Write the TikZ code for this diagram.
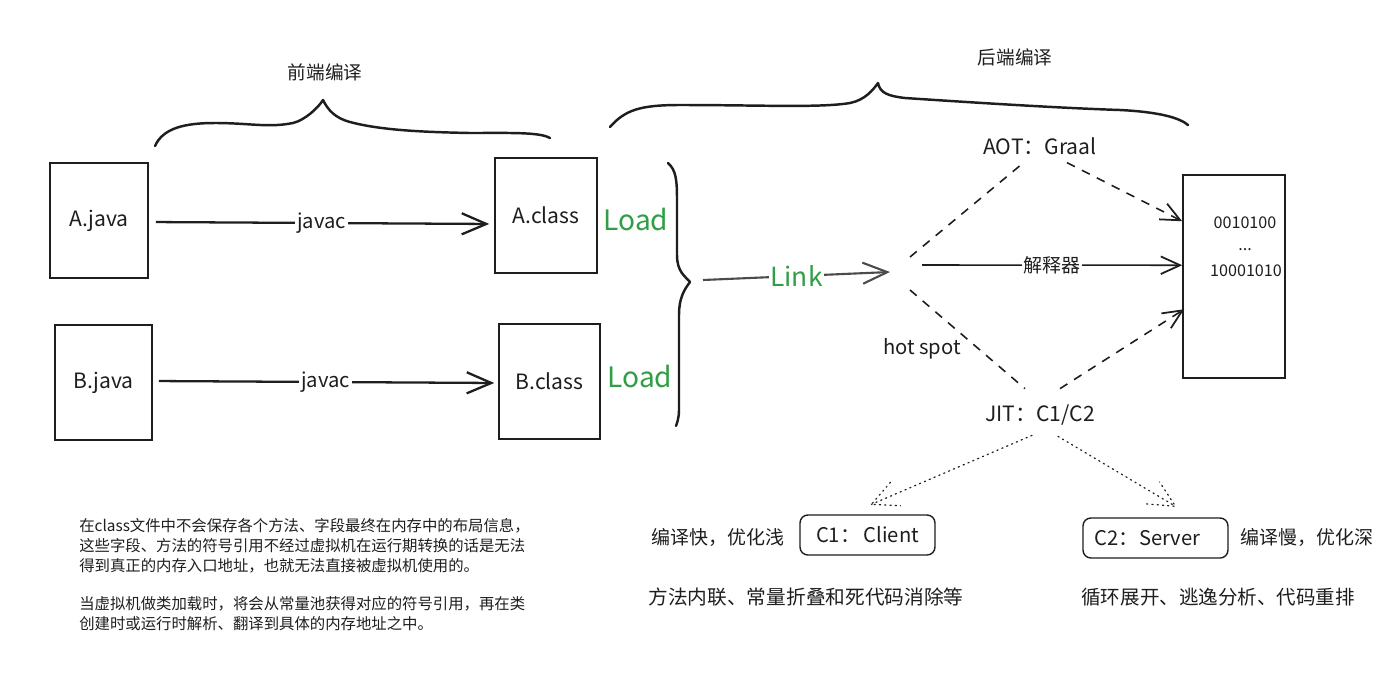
\documentclass[tikz,border=0pt]{standalone}
\usepackage{fontspec}
\setmainfont{Noto Sans CJK SC}
\usetikzlibrary{arrows.meta,calc}
\definecolor{ink}{HTML}{1E1E1E}
\definecolor{exgreen}{HTML}{2F9E44}

\tikzset{
  docbox/.style={draw=ink, line width=0.9pt, inner sep=0pt},
  roundbox/.style={draw=ink, line width=0.8pt, rounded corners=4.5pt, inner sep=0pt},
  hand/.style={text=ink, font=\fontsize{11.5pt}{13pt}\selectfont, inner sep=1pt},
  bits/.style={text=ink, font=\fontsize{9.2pt}{11pt}\selectfont, inner sep=1pt},
  cjk/.style={text=ink, font=\fontsize{10.8pt}{13pt}\selectfont, inner sep=1pt},
  loadtxt/.style={text=exgreen, font=\fontsize{16pt}{18pt}\selectfont, inner sep=1pt},
  bracepath/.style={draw=ink, line width=1.4pt, line cap=round, line join=round},
  heavyarrow/.style={draw=ink, line width=1.3pt, -{Straight Barb[length=14pt,width=12pt,line width=1.3pt]}},
  thinarrow/.style={draw=ink, line width=0.9pt, -{Straight Barb[length=11pt,width=10pt,line width=1pt]}},
  dasharrow/.style={draw=ink, line width=0.9pt, dash pattern=on 5pt off 4.5pt, -{Straight Barb[length=11pt,width=10pt,line width=1pt]}},
  dashline/.style={draw=ink, line width=0.9pt, dash pattern=on 5pt off 4.5pt},
  dotline/.style={draw=ink, line width=0.7pt, dash pattern=on 0.7pt off 2.3pt, line cap=round},
  gaplabel/.style={fill=white, inner sep=2pt}
}

\begin{document}
\begin{tikzpicture}[x=0.02cm, y=-0.02cm]
\useasboundingbox (0,0) rectangle (1397,677);
\fill[white] (0,0) rectangle (1397,677);

% ---- front-end compilation: source files and class files ----
\node[docbox, minimum width=1.96cm, minimum height=2.3cm] (ajava) at (99,220.5) {};
\node[hand, font=\fontsize{12pt}{14pt}\selectfont] at (ajava.center) {A.java};
\node[docbox, minimum width=1.94cm, minimum height=2.3cm] (bjava) at (103.5,382.5) {};
\node[hand, font=\fontsize{12pt}{14pt}\selectfont] at (bjava.center) {B.java};
\node[docbox, minimum width=2.04cm, minimum height=2.3cm] (aclass) at (546,215.5) {};
\node[hand, font=\fontsize{12pt}{14pt}\selectfont] at (aclass.center) {A.class};
\node[docbox, minimum width=2.02cm, minimum height=2.3cm] (bclass) at (549.5,381.5) {};
\node[hand, font=\fontsize{12pt}{14pt}\selectfont] at (bclass.center) {B.class};

\draw[heavyarrow, shorten <=7*0.02cm, shorten >=5*0.02cm] (ajava.east |- 0,222) -- node[gaplabel, hand] {javac} (aclass.west |- 0,224);
\draw[heavyarrow, shorten <=6*0.02cm, shorten >=4*0.02cm] (bjava.east |- 0,381) -- node[gaplabel, hand] {javac} (bclass.west |- 0,383);

% brace over the front end
\node[cjk, font=\fontsize{10.6pt}{13pt}\selectfont] (fe) at (325,72) {前端编译};
\draw[bracepath] (155,146) .. controls (163,128) and (185,123) .. (215,123)
  .. controls (250,123) and (268,128) .. (293,123)
  .. controls (305,120) and (318,108) .. (323,100)
  .. controls (328,110) and (335,118) .. (350,122)
  .. controls (380,130) and (420,132) .. (470,133)
  .. controls (510,133) and (540,132) .. (550,138);

% ---- loading and linking ----
\node[loadtxt] (loada) at (636,219) {Load};
\node[loadtxt] (loadb) at (640,376) {Load};
\draw[bracepath] (668,163) .. controls (676,170) and (677,180) .. (677,200) -- (677,255)
  .. controls (677,272) and (685,276) .. (690,282)
  .. controls (684,290) and (679,298) .. (679,315) -- (679,410)
  .. controls (679,418) and (677,423) .. (676,426);
\coordinate (bracetip) at (703,280);
\coordinate (hub) at (890,272);
\draw[draw=ink!80, line width=1.2pt, -{Straight Barb[length=14pt,width=12pt,line width=1.2pt]}]
  (bracetip) -- node[gaplabel, text=exgreen, font=\fontsize{15pt}{17pt}\selectfont, inner sep=1pt] {Link} (hub);

% brace over the back end
\node[cjk, font=\fontsize{10.6pt}{13pt}\selectfont] (bend) at (1015,57) {后端编译};
\draw[bracepath] (610,127) .. controls (625,110) and (640,105) .. (680,105)
  .. controls (760,105) and (820,108) .. (850,103)
  .. controls (865,100) and (873,90) .. (878,83)
  .. controls (880,93) and (888,96) .. (905,98)
  .. controls (980,103) and (1060,108) .. (1120,110)
  .. controls (1160,112) and (1180,118) .. (1188,125);

% ---- back-end paths to machine code ----
\node[docbox, minimum width=2.04cm, minimum height=4.06cm] (bin) at (1234,276.5) {};
\node[bits] (bina) at (1245,223) {0010100};
\node[bits] (bindots) at (1245,250) {...};
\node[bits] (binb) at (1246,271) {10001010};

\node[hand, font=\fontsize{12pt}{14pt}\selectfont] (aot) at (1040,146) {AOT：Graal};
\node[hand, font=\fontsize{12pt}{14pt}\selectfont] (jit) at (1040,415) {JIT：C1/C2};

\coordinate (hubup) at (910,257);
\coordinate (hubmid) at (922,265);
\coordinate (hubdown) at (910,290);

\draw[dashline] (hubup) -- ($(aot.south)+(-20,9)$);
\draw[dasharrow] ($(aot.south)+(27,6)$) -- ($(bin.north west)+(0,47)$);
\draw[thinarrow] (hubmid) -- node[gaplabel, cjk] {解释器} ($(bin.north west)+(0,91)$);
\draw[dashline] (hubdown) -- ($(jit.north)+(-15,-14)$);
\draw[dasharrow] ($(jit.north)+(20,-14)$) -- ($(bin.north west)+(2,135)$);
\node[hand] (hotspot) at (922,349) {hot spot};

% ---- JIT tiers ----
\node[roundbox, minimum width=2.7cm, minimum height=0.8cm] (c1) at (867.5,535) {};
\node[hand, font=\fontsize{11.5pt}{13pt}\selectfont] at (c1.center) {C1：\,Client};
\node[roundbox, minimum width=2.9cm, minimum height=0.8cm] (c2) at (1155.5,538) {};
\node[hand, font=\fontsize{11.5pt}{13pt}\selectfont] at ($(c2.center)+(-8,0)$) {C2：Server};

\coordinate (c1tip) at ($(c1.north)+(4,-10)$);
\coordinate (c2tip) at ($(c2.north)+(20,-11)$);
\coordinate (jitl) at ($(jit.south)+(-8,8)$);
\coordinate (jitr) at ($(jit.south)+(18,9)$);
\draw[dotline] (jitl) -- (c1tip);
\draw[dotline] ($(c1tip)!0.58cm!26:(jitl)$) -- (c1tip) -- ($(c1tip)!0.58cm!-26:(jitl)$);
\draw[dotline] (jitr) -- (c2tip);
\draw[dotline] ($(c2tip)!0.58cm!26:(jitr)$) -- (c2tip) -- ($(c2tip)!0.58cm!-26:(jitr)$);

\node[cjk] (c1note) at (718,537) {编译快，优化浅};
\node[cjk] (c2note) at (1307,537) {编译慢，优化深};
\node[cjk, font=\fontsize{11.2pt}{13pt}\selectfont] (c1opt) at (806,597) {方法内联、常量折叠和死代码消除等};
\node[cjk, font=\fontsize{11.1pt}{13pt}\selectfont] (c2opt) at (1218,597) {循环展开、逃逸分析、代码重排};

% ---- explanatory notes ----
\node[anchor=north west, align=left, text=ink, inner sep=0pt,
      font=\fontsize{8.75pt}{11.3pt}\selectfont] (notes) at (79,518)
  {在class文件中不会保存各个方法、字段最终在内存中的布局信息，\\
   这些字段、方法的符号引用不经过虚拟机在运行期转换的话是无法\\
   得到真正的内存入口地址，也就无法直接被虚拟机使用的。\\[10.5pt]
   当虚拟机做类加载时，将会从常量池获得对应的符号引用，再在类\\
   创建时或运行时解析、翻译到具体的内存地址之中。};
\end{tikzpicture}
\end{document}
